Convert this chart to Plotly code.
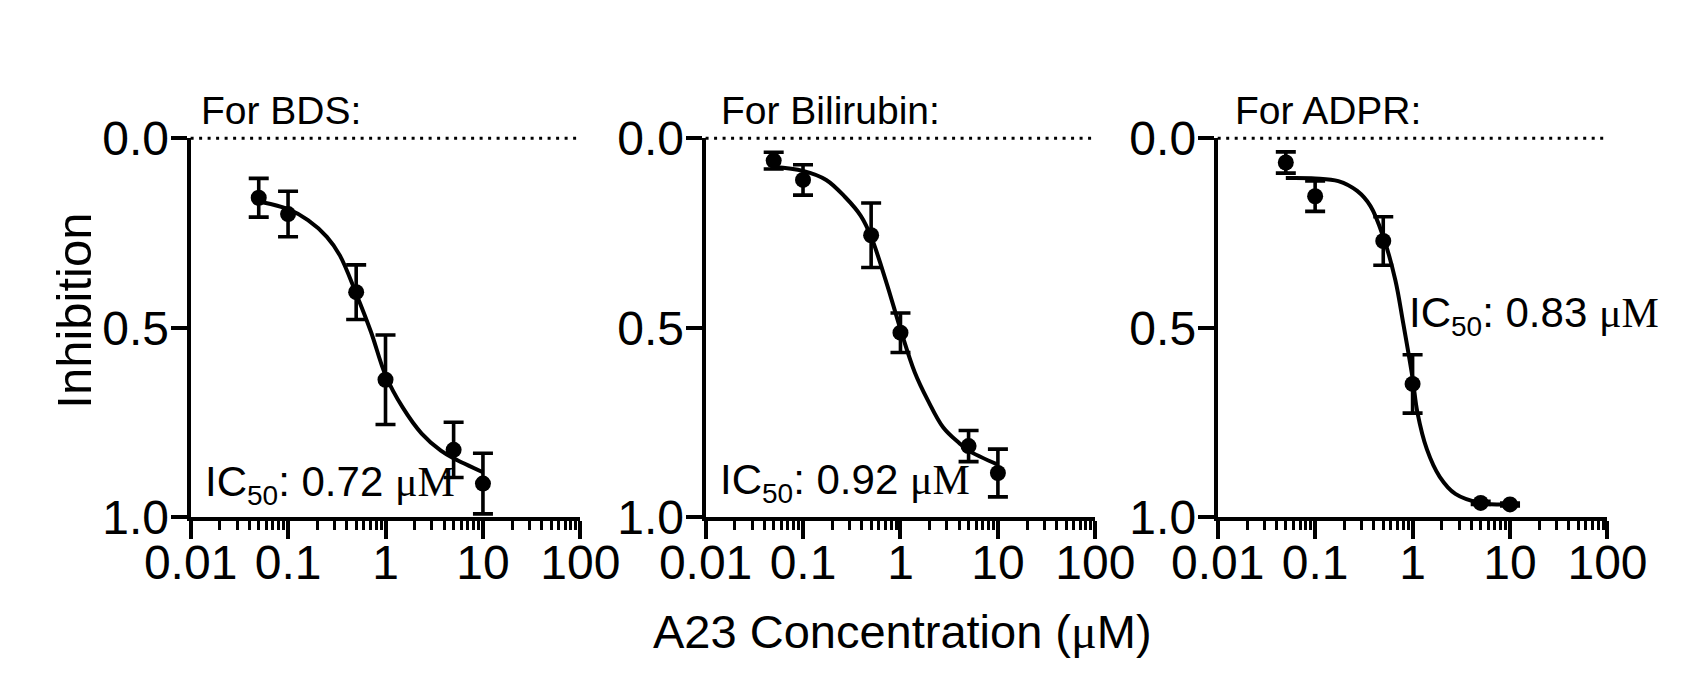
import plotly.graph_objects as go

W, H = 1685, 683

# ---- data ----
conc = [0.05, 0.1, 0.5, 1, 5, 10]

bds_inh = [0.157, 0.200, 0.406, 0.637, 0.822, 0.911]
bds_err = [0.051, 0.060, 0.072, 0.118, 0.073, 0.080]
bil_inh = [0.059, 0.110, 0.256, 0.513, 0.812, 0.883]
bil_err = [0.022, 0.040, 0.085, 0.052, 0.041, 0.063]
adpr_inh = [0.064, 0.153, 0.271, 0.648, 0.962, 0.966]
adpr_err = [0.028, 0.040, 0.064, 0.077, 0.004, 0.004]

# fitted curves
bds_fit_x = [0.05, 0.1, 0.16, 0.25, 0.34, 0.5, 0.71, 1.0, 1.5, 2.35, 3.7, 5, 10]
bds_fit_y = [0.167, 0.187, 0.216, 0.26, 0.309, 0.41, 0.511, 0.625, 0.71, 0.779, 0.824, 0.844, 0.881]
bil_fit_x = [0.05, 0.1, 0.173, 0.27, 0.39, 0.5, 0.72, 1.0, 1.4, 1.9, 2.75, 4, 5, 10]
bil_fit_y = [0.076, 0.086, 0.11, 0.155, 0.204, 0.26, 0.382, 0.504, 0.617, 0.69, 0.763, 0.804, 0.824, 0.861]
adpr_fit_x = [0.05, 0.1, 0.173, 0.27, 0.37, 0.5, 0.665, 0.8, 1.0, 1.12, 1.4, 1.9, 2.75, 5, 10]
adpr_fit_y = [0.105, 0.106, 0.113, 0.139, 0.179, 0.26, 0.374, 0.487, 0.633, 0.723, 0.82, 0.893, 0.938, 0.962, 0.966]

titles = ["For BDS:", "For Bilirubin:", "For ADPR:"]
ic50_labels = ["0.72", "0.92", "0.83"]

x_tickvals = [0.01, 0.1, 1, 10, 100]
x_ticktext = ["0.01", "0.1", "1", "10", "100"]
y_tickvals = [0.0, 0.5, 1.0]
y_ticktext = ["0.0", "0.5", "1.0"]

SANS = "Liberation Sans, Arial, sans-serif"

x_title = ("A23 Concentration (<span style='font-family:Liberation Serif;"
           "font-size:48px'>μ</span>M)")
y_title = "Inhibition"

# ---- layout geometry (pixels) ----
panel_left = [143, 686, 1226]
panel_w = 411
top_px, bot_px = 113, 524

title_px = [152, 700, 1242]
ic_pos = [(156, 488), (699, 486), (1426, 305)]

series = [
    (bds_inh, bds_err, bds_fit_x, bds_fit_y),
    (bil_inh, bil_err, bil_fit_x, bil_fit_y),
    (adpr_inh, adpr_err, adpr_fit_x, adpr_fit_y),
]

fig = go.Figure()
annotations = []
shapes = []

for i, (inh, err, fx, fy) in enumerate(series):
    xa = "x" if i == 0 else f"x{i+1}"
    ya = "y" if i == 0 else f"y{i+1}"
    fig.add_trace(go.Scatter(
        x=fx, y=fy, xaxis=xa, yaxis=ya, mode="lines",
        line=dict(color="black", width=4, shape="spline", smoothing=1.0),
        showlegend=False, hoverinfo="skip"))
    fig.add_trace(go.Scatter(
        x=conc, y=inh, xaxis=xa, yaxis=ya, mode="markers",
        marker=dict(color="black", size=16),
        error_y=dict(type="data", array=err, visible=True, color="black",
                     thickness=3.6, width=10),
        showlegend=False, cliponaxis=False))

    axis_suffix = "" if i == 0 else str(i + 1)
    x0 = panel_left[i] / W
    x1 = (panel_left[i] + panel_w) / W
    common_line = dict(showline=True, linecolor="black", linewidth=4,
                       showgrid=False, zeroline=False, ticks="outside",
                       tickcolor="black", tickwidth=3.6,
                       tickfont=dict(family=SANS, size=48, color="black"))
    fig.layout["xaxis" + axis_suffix] = dict(
        type="log", range=[-2, 2], domain=[x0, x1], anchor=ya,
        tickvals=x_tickvals, ticktext=x_ticktext, ticklen=18,
        ticklabelstandoff=-18,
        minor=dict(ticks="outside", ticklen=9, tickwidth=3.2,
                   tickcolor="black", dtick="D1", showgrid=False),
        **common_line)
    fig.layout["yaxis" + axis_suffix] = dict(
        range=[1.0, 0.0], domain=[1 - bot_px / H, 1 - top_px / H], anchor=xa,
        tickvals=y_tickvals, ticktext=y_ticktext, ticklen=16,
        ticklabelstandoff=-8,
        **common_line)

    # dotted reference line at zero inhibition (top of axis)
    shapes.append(dict(type="line", xref=f"{xa} domain", yref=f"{ya} domain",
                       x0=0, x1=1, y0=1, y1=1,
                       line=dict(color="black", width=3.2, dash="3px,5.5px")))

    annotations.append(dict(
        text=titles[i], xref="paper", yref="paper",
        x=title_px[i] / W, y=1 - 83 / H, xanchor="left", yanchor="middle",
        showarrow=False, font=dict(family=SANS, size=39, color="black")))
    icx, icy = ic_pos[i]
    annotations.append(dict(
        text=(f"IC<sub><span style='font-size:28px'>50</span></sub>: {ic50_labels[i]} "
              "<span style='font-family:Liberation Serif;font-size:42px'>μM</span>"),
        xref="paper", yref="paper", x=icx / W, y=1 - icy / H,
        xanchor="left", yanchor="middle", showarrow=False,
        font=dict(family=SANS, size=42, color="black")))

annotations.append(dict(
    text=x_title, xref="paper", yref="paper", x=628 / W, y=1 - 648 / H,
    xanchor="left", yanchor="middle", showarrow=False,
    font=dict(family=SANS, size=47, color="black")))
annotations.append(dict(
    text=y_title, xref="paper", yref="paper", x=20 / W, y=1 - 300 / H,
    xanchor="center", yanchor="middle", textangle=-90, showarrow=False,
    font=dict(family=SANS, size=49, color="black")))

fig.update_layout(
    width=W, height=H, margin=dict(l=0, r=0, t=0, b=0),
    paper_bgcolor="white", plot_bgcolor="white",
    annotations=annotations, shapes=shapes,
    font=dict(family=SANS, color="black"),
)

fig.write_html("out.html")
